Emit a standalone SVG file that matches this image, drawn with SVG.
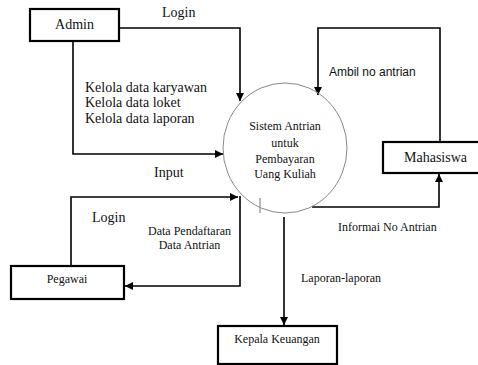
<svg xmlns="http://www.w3.org/2000/svg" width="478" height="365" viewBox="0 0 478 365">
<defs>
<marker id="ah" viewBox="0 0 10 10" refX="10" refY="5" markerWidth="8" markerHeight="8" markerUnits="userSpaceOnUse" orient="auto"><path d="M0,0 L10,5 L0,10 z" fill="#000"/></marker>
<style>
.box{fill:#fff;stroke:#000;stroke-width:2.2}
.ln{fill:none;stroke:#000;stroke-width:1.6;marker-end:url(#ah)}
.serif{font-family:"Liberation Serif","Times New Roman",serif;fill:#111}
.sans{font-family:"Liberation Sans",Arial,sans-serif;fill:#111}
</style>
</defs>
<rect width="478" height="365" fill="#fff"/>
<g id="connectors">
<path class="ln" d="M119,28 H240 V101"/>
<path class="ln" d="M73,41 V154 H223"/>
<path class="ln" d="M440,142 V28 H318 V95"/>
<path class="ln" d="M312,207 H439 V174"/>
<path class="ln" d="M284,217 V325"/>
<path class="ln" d="M71,266 V197 H238"/>
<path class="ln" d="M240,196 V286 H125"/>
<line x1="260" y1="198" x2="260" y2="213" stroke="#777" stroke-width="1"/>
<text class="serif" x="162" y="17" font-size="14">Login</text>
<text class="serif" x="85" y="92" font-size="14">Kelola data karyawan</text>
<text class="serif" x="85" y="107" font-size="14">Kelola data loket</text>
<text class="serif" x="85" y="123" font-size="14">Kelola data laporan</text>
<text class="sans" x="329" y="76" font-size="12">Ambil no antrian</text>
<text class="serif" x="154" y="177" font-size="14">Input</text>
<text class="serif" x="92" y="222" font-size="14">Login</text>
<text class="serif" x="189.5" y="235" font-size="12" text-anchor="middle">Data Pendaftaran</text>
<text class="serif" x="189.5" y="249" font-size="12" text-anchor="middle">Data Antrian</text>
<text class="serif" x="338" y="231" font-size="12">Informai No Antrian</text>
<text class="serif" x="301" y="282" font-size="12">Laporan-laporan</text>
</g>
<g id="admin">
<rect class="box" x="30" y="9" width="89" height="32"/>
<text class="serif" x="74.5" y="29" font-size="14" text-anchor="middle">Admin</text>
</g>
<g id="sistem">
<ellipse cx="285" cy="148" rx="62" ry="65" fill="none" stroke="#888" stroke-width="1"/>
<text class="serif" x="285" y="130" font-size="12" text-anchor="middle">Sistem Antrian</text>
<text class="serif" x="285" y="147" font-size="12" text-anchor="middle">untuk</text>
<text class="serif" x="285" y="163" font-size="12" text-anchor="middle">Pembayaran</text>
<text class="serif" x="285" y="178" font-size="12" text-anchor="middle">Uang Kuliah</text>
</g>
<g id="mahasiswa">
<rect class="box" x="383" y="142" width="110" height="31"/>
<text class="serif" x="435.5" y="162" font-size="14" text-anchor="middle">Mahasiswa</text>
</g>
<g id="pegawai">
<rect class="box" x="11" y="266" width="113" height="33"/>
<text class="serif" x="67" y="283" font-size="12" text-anchor="middle">Pegawai</text>
</g>
<g id="kepala">
<rect class="box" x="218" y="326" width="119" height="38"/>
<text class="serif" x="277" y="343" font-size="12" text-anchor="middle">Kepala Keuangan</text>
</g>
</svg>
